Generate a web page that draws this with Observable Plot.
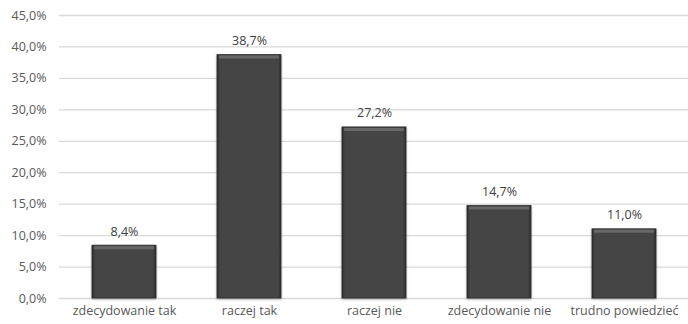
<!DOCTYPE html>
<html>
<head>
<meta charset="utf-8">
<script src="https://cdn.jsdelivr.net/npm/d3@7"></script>
<script src="https://cdn.jsdelivr.net/npm/@observablehq/plot@0.6"></script>
<style>
  html, body { margin: 0; padding: 0; background: #fff; }
  #chart svg { display: block; }
</style>
</head>
<body>
<div id="chart"></div>
<script>
// Survey answers and their shares (%)
const categories = ["zdecydowanie tak", "raczej tak", "raczej nie", "zdecydowanie nie", "trudno powiedzieć"];
const shares = [8.4, 38.7, 27.2, 14.7, 11.0];
const yTicks = [0, 5, 10, 15, 20, 25, 30, 35, 40, 45];

const data = categories.map((c, i) => ({category: c, value: shares[i]}));
const pct = v => v.toFixed(1).replace(".", ",") + "%";

const chart = Plot.plot({
  width: 688,
  height: 324,
  marginLeft: 59,
  marginRight: 0,
  marginTop: 15,
  marginBottom: 26,
  style: {fontFamily: "'Open Sans', sans-serif", fontSize: "12.5px", color: "#595959", background: "#fff"},
  x: {domain: categories, paddingInner: 0.49, paddingOuter: 0.245, label: null, tickSize: 0, tickPadding: 8},
  y: {domain: [0, 45], ticks: yTicks, tickFormat: pct, label: null, tickSize: 0, tickPadding: 13},
  marks: [
    Plot.ruleY(yTicks, {stroke: "#d9d9d9", strokeWidth: 1.3}),
    Plot.barY(data, {x: "category", y: "value", fill: "url(#barFill)", stroke: "#2b2b2b", strokeWidth: 0.8, className: "bar"}),
    Plot.tickY(data, {x: "category", y: "value", stroke: "#676767", strokeWidth: 3, dy: 2, inset: 2}),
    Plot.text(data, {x: "category", y: "value", text: d => pct(d.value), dy: -14, fill: "#404040", fontSize: 12.5})
  ]
});

// Gradient and shadow used by the bars
const ns = "http://www.w3.org/2000/svg";
const defs = document.createElementNS(ns, "defs");
defs.innerHTML = `
  <linearGradient id="barFill" x1="0" x2="1" y1="0" y2="0">
    <stop offset="0" stop-color="#2f2f2f"/>
    <stop offset="0.05" stop-color="#454545"/>
    <stop offset="0.95" stop-color="#454545"/>
    <stop offset="1" stop-color="#2f2f2f"/>
  </linearGradient>
  <filter id="barShadow" x="-10%" y="-10%" width="120%" height="120%">
    <feDropShadow dx="0" dy="1" stdDeviation="1.2" flood-color="#000" flood-opacity="0.35"/>
  </filter>`;
chart.insertBefore(defs, chart.firstChild);
chart.querySelectorAll(".bar rect").forEach(r => r.setAttribute("filter", "url(#barShadow)"));

document.getElementById("chart").append(chart);
</script>
</body>
</html>
